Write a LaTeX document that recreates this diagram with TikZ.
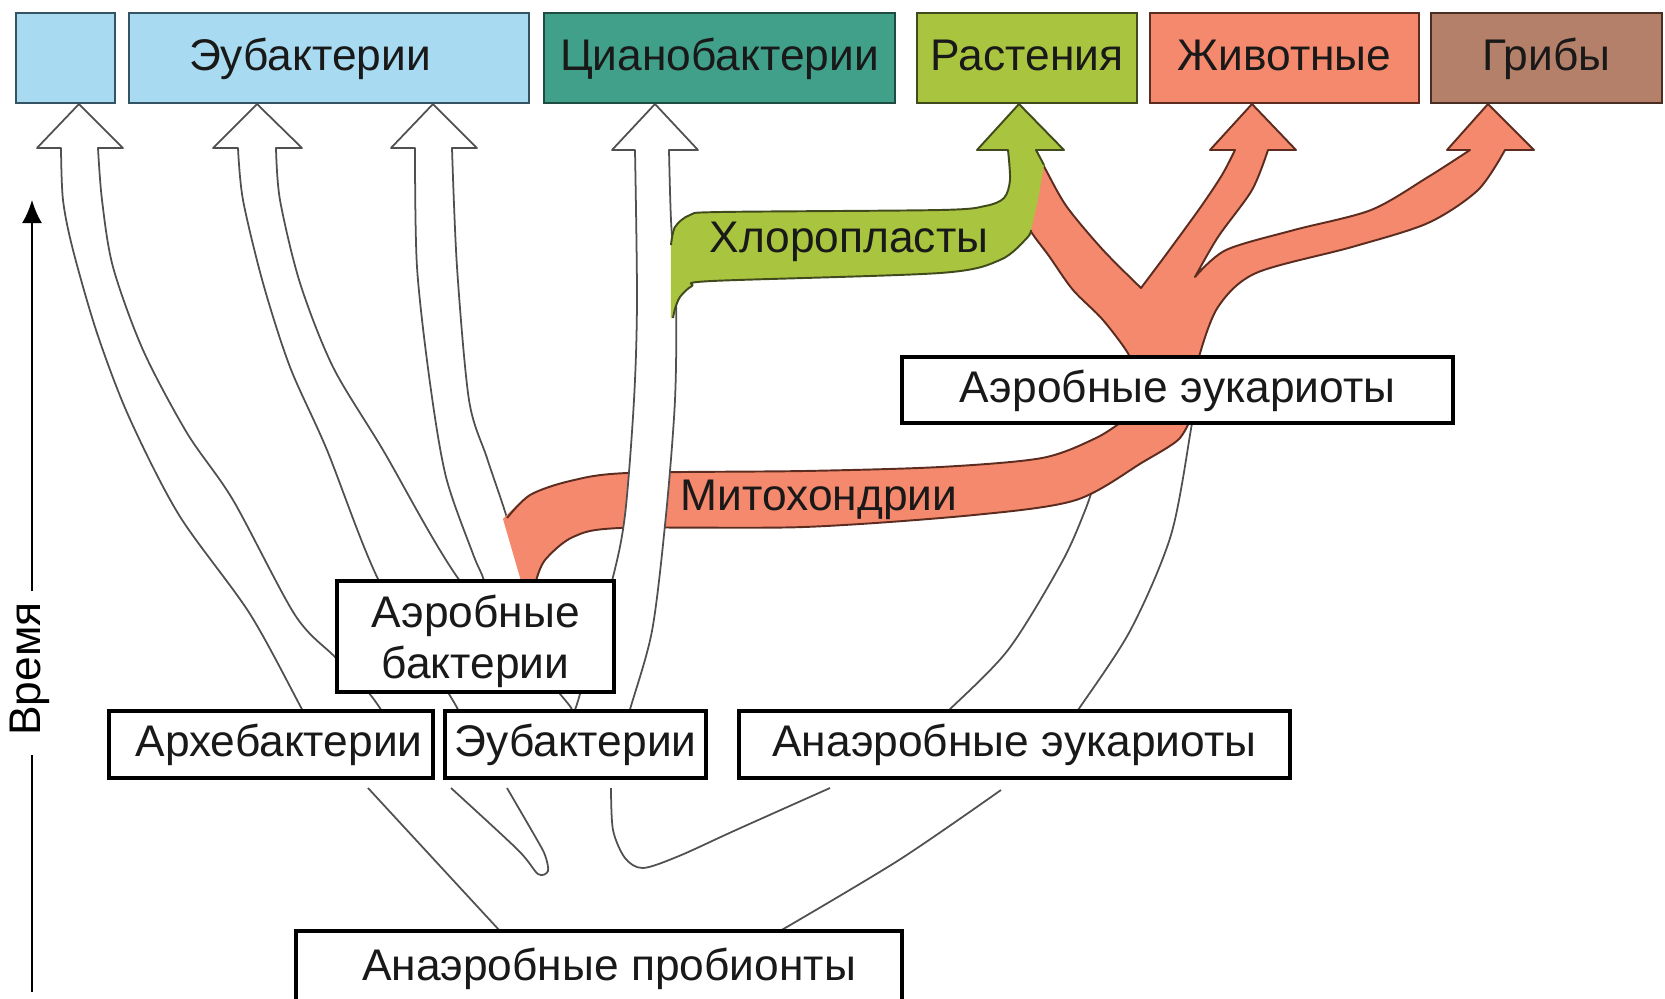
\documentclass[tikz,border=0pt]{standalone}
\usepackage{fontspec}
\setmainfont{Liberation Sans}
\usepackage{tikz}
\usetikzlibrary{arrows.meta, positioning}
\usepackage{xcolor}
\definecolor{eubablue}{RGB}{168,219,241}
\definecolor{eubaedge}{RGB}{52,84,100}
\definecolor{cyanogreen}{RGB}{64,160,138}
\definecolor{cyanoedge}{RGB}{30,76,66}
\definecolor{plantgreen}{RGB}{169,196,62}
\definecolor{plantedge}{RGB}{64,74,28}
\definecolor{animalsalmon}{RGB}{244,137,109}
\definecolor{animaledge}{RGB}{92,44,32}
\definecolor{fungibrown}{RGB}{181,128,105}
\definecolor{fungiedge}{RGB}{72,46,34}
\definecolor{hollowedge}{RGB}{80,80,80}
\newcommand{\lblfont}{\fontsize{12.6}{14.5}\selectfont}
\tikzstyle{taxon} = [rectangle, line width=0.7pt, inner sep=0pt, minimum height=0.9cm, text height=9.5pt, text depth=2.6pt, text=black!90, font=\lblfont]
\tikzstyle{stage} = [rectangle, draw=black, line width=1.2pt, fill=white, inner sep=0pt, minimum height=0.67cm, text height=9.5pt, text depth=2.6pt, text=black!90, font=\lblfont]
\tikzstyle{hollow} = [draw=hollowedge, line width=0.5pt, fill=white, line join=round]
\tikzstyle{trunkline} = [draw=hollowedge, line width=0.5pt]
\tikzstyle{mitoband} = [draw=animaledge, line width=0.55pt, fill=animalsalmon, line join=round]
\tikzstyle{mitoline} = [draw=animaledge, line width=0.55pt, line join=round]
\tikzstyle{chloroline} = [draw=plantedge, line width=0.55pt, line join=round]
\tikzstyle{bandtext} = [inner sep=0pt, text=black!90, font=\lblfont]
\tikzstyle{timeline} = [line width=0.6pt, black]

\begin{document}
\begin{tikzpicture}[x=0.01cm, y=-0.01cm]
  \useasboundingbox (0,0) rectangle (1665,999);

  % hollow arrows of the bacteria
  \draw[hollow] plot[smooth] coordinates {(330,760) (304,713) (250,614) (179,515) (129,417) (97,333) (73,250) (63,200) (61,148)}
    -- (37,148) -- (79,104) -- (123,148) -- (98,148)
    -- plot[smooth] coordinates {(98,148) (102,200) (113,267) (143,350) (187,433) (233,500) (295,615) (335,657) (368,692) (382,711) (402,740)} -- cycle;
  \draw[hollow] plot[smooth] coordinates {(475,745) (460,714) (449,694) (379,581) (327,450) (290,367) (263,283) (243,200) (238,148)}
    -- (213,148) -- (257,104) -- (302,148) -- (276,148)
    -- plot[smooth] coordinates {(276,148) (280,200) (300,283) (333,367) (383,450) (460,581) (560,694) (574,714) (590,745)} -- cycle;
  \draw[hollow] plot[smooth] coordinates {(490,620) (484,581) (473,554) (446,477) (430,383) (417,267) (415,148)}
    -- (391,148) -- (433,104) -- (477,148) -- (452,148)
    -- plot[smooth] coordinates {(452,148) (457,267) (469,400) (487,458) (507,518) (524,581) (530,620)} -- cycle;

  % anaerobic to aerobic eukaryotes
  \draw[hollow] plot[smooth] coordinates {(934,725) (946,713) (1008,650) (1062,562) (1086,508) (1095,480)}
    -- (1150,445) -- (1195,410)
    -- plot[smooth] coordinates {(1193,412) (1191,429) (1171,535) (1130,631) (1076,713) (1068,725)} -- cycle;

  % trunk from the probionts
  \draw[trunkline] (368,788) -- (500,931);
  \draw[trunkline] plot[smooth] coordinates {(451,788) (518,850) (538,874) (548,871) (545,855) (536,838) (507,788)};
  \draw[trunkline] plot[smooth] coordinates {(611,788) (613,830) (625,858) (643,868) (679,856) (736,830) (830,788)};
  \draw[trunkline] plot[smooth] coordinates {(1001,790) (899,860) (780,931)};

  % mitochondria
  \fill[animalsalmon] plot[smooth] coordinates {(503,519) (530,495) (570,481) (627,473) (804,471) (940,467) (1042,458) (1096,438) (1124,420)}
    -- (1124,405) -- (1190,405)
    -- plot[smooth] coordinates {(1190,420) (1178,440) (1143,462) (1076,500) (974,515) (804,527) (620,528) (573,537) (545,560) (536,581) (535,605)}
    -- (519,605) -- (521,581) -- cycle;
  \draw[mitoline] plot[smooth] coordinates {(507,518) (530,495) (570,481) (627,473) (804,471) (940,467) (1042,458) (1096,438) (1124,420)};
  \draw[mitoline] plot[smooth] coordinates {(1190,420) (1178,440) (1143,462) (1076,500) (974,515) (804,527) (620,528) (573,537) (545,560) (536,581)};

  % cyanobacteria
  \draw[hollow] plot[smooth] coordinates {(570,745) (574,714) (580,694) (612,581) (625,515) (634,400) (637,300) (635,150)}
    -- (612,150) -- (655,104) -- (698,150) -- (669,150)
    -- plot[smooth] coordinates {(669,150) (671,220) (676,300) (675,400) (666,515) (652,631) (629,713) (622,745)} -- cycle;

  % eukaryote tree
  \draw[mitoband] plot[smooth] coordinates {(1128,375) (1130,357) (1103,320) (1073,290) (1049,256) (1030,230) (1016,200) (1012,170) (1012,150)}
    -- (1036,150)
    -- plot[smooth] coordinates {(1036,150) (1047,172) (1067,207) (1103,250) (1141,288)}
    -- plot[smooth] coordinates {(1141,288) (1165,256) (1200,208) (1222,175) (1235,150)}
    -- (1210,150) -- (1252,104) -- (1296,150) -- (1268,150)
    -- plot[smooth] coordinates {(1268,150) (1252,190) (1218,237) (1195,277)}
    -- plot[smooth] coordinates {(1195,277) (1226,250) (1294,230) (1371,210) (1428,177) (1470,150)}
    -- (1447,150) -- (1488,104) -- (1534,150) -- (1505,150)
    -- plot[smooth] coordinates {(1505,150) (1478,190) (1428,223) (1352,247) (1256,273) (1218,307) (1199,357) (1199,375)} -- cycle;

  % chloroplasts
  \fill[plantgreen] plot[smooth] coordinates {(671,318) (671,245) (675,227) (690,215) (720,212) (940,210) (985,206) (1004,198) (1010,180) (1008,150)}
    -- (977,150) -- (1019,104) -- (1064,150) -- (1036,150) -- (1044,165) -- (1038,200) -- (1031,230)
    -- plot[smooth] coordinates {(1031,230) (1027,238) (1000,260) (940,273) (712,281) (692,286) (680,297) (675,309) (673,318)} -- cycle;
  \draw[chloroline] plot[smooth] coordinates {(671,245) (675,227) (690,215) (720,212) (940,210) (985,206) (1004,198) (1010,180) (1008,150)}
    -- (977,150) -- (1019,104) -- (1064,150) -- (1036,150) -- (1044,165);
  \draw[chloroline] plot[smooth] coordinates {(1031,230) (1027,238) (1000,260) (940,273) (712,281) (692,286) (680,297) (675,309) (673,318)};

  % top row
  \node[taxon, fill=eubablue, draw=eubaedge, minimum width=0.99cm] (archtop) at (65.5,58) {};
  \node[taxon, fill=eubablue, draw=eubaedge, minimum width=4cm] (eubtop) at (329,58) {Эубактерии\hspace*{0.38cm}};
  \node[taxon, fill=cyanogreen, draw=cyanoedge, minimum width=3.51cm] (cyano) at (719.5,58) {Цианобактерии};
  \node[taxon, fill=plantgreen, draw=plantedge, minimum width=2.2cm] (plants) at (1027,58) {Растения};
  \node[taxon, fill=animalsalmon, draw=animaledge, minimum width=2.69cm] (animals) at (1284.5,58) {Животные};
  \node[taxon, fill=fungibrown, draw=fungiedge, minimum width=2.31cm] (fungi) at (1546.5,58) {Грибы};

  % stages
  \node[stage, minimum width=3.24cm] (archbot) at (271,744.5) {\hspace*{0.16cm}Архебактерии};
  \node[stage, minimum width=2.61cm] (eubbot) at (575.5,744.5) {Эубактерии};
  \node[stage, minimum width=5.51cm] (anaeuk) at (1014.5,744.5) {Анаэробные эукариоты};
  \node[stage, minimum width=2.77cm, minimum height=1.11cm] (aerbac) at (475.5,636.5) {};
  \node[bandtext, align=center] (aerbactext) at ([yshift=-0.05cm]aerbac.center) {Аэробные\\бактерии};
  \node[stage, minimum width=5.51cm, minimum height=0.66cm] (aereuk) at (1177.5,390) {Аэробные эукариоты};
  \node[stage, minimum width=6.06cm, minimum height=0.74cm] (anaprob) at (599,968) {\hspace*{0.2cm}Анаэробные пробионты};

  % band labels
  \node[bandtext] (chloro) at (849,242) {Хлоропласты};
  \node[bandtext] (mito) at (819,500) {Митохондрии};

  % time axis
  \coordinate (tbot) at (32,992);
  \coordinate (tgapl) at (32,755);
  \coordinate (tgapu) at (32,591);
  \coordinate (ttop) at (32,200);
  \node[rotate=90, inner sep=0pt, font=\lblfont] (vremya) at (30,669) {Время};
  \draw[timeline] (tbot) -- (tgapl);
  \draw[timeline, -{Latex[length=0.23cm, width=0.2cm]}] (tgapu) -- (ttop);

\end{tikzpicture}
\end{document}
